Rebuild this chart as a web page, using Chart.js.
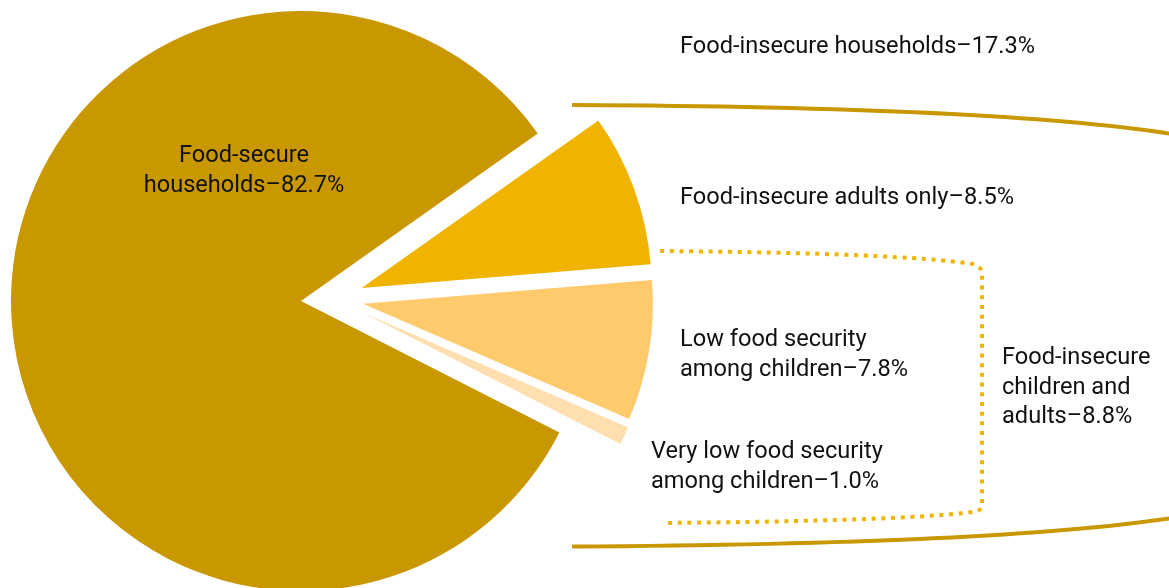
<!DOCTYPE html>
<html>
<head>
<meta charset="utf-8">
<script src="https://cdn.jsdelivr.net/npm/chart.js@4.4.0/dist/chart.umd.min.js"></script>
<style>
  html, body { margin: 0; padding: 0; background: #fff; }
  #wrap { position: relative; width: 1169px; height: 588px; overflow: hidden; }
</style>
</head>
<body>
<div id="wrap"><canvas id="chart1"></canvas></div>
<script>
// household shares (percent)
const categories = ['Food-secure households', 'Food-insecure adults only', 'Low food security among children', 'Very low food security among children'];
const shares = [82.7, 8.5, 7.8, 1.0];
const exploded = [false, true, true, true];
const colors = ['#C99700', '#F0B400', '#FFCA6B', '#FFDFB0'];

const gold = '#C99700';
const font = '23.6px Roboto';
const EXPLODE = 62;      // px the food-insecure slices are pulled out
const GROUP_ANGLE = -4.15; // screen angle (deg) the pulled-out group points at

let insecure = 0, childInsecure = 0;
shares.forEach((v, i) => { if (exploded[i]) insecure += v; });
childInsecure = shares[2] + shares[3];
const rotation = 90 + GROUP_ANGLE + insecure / 100 * 360 / 2;

const fmt = v => v.toFixed(1) + '%';

// annotation text, lines and where they go
const notes = [
  {lines: ['Food-insecure households\u2013' + fmt(insecure)], x: 680, y: 53, align: 'left'},
  {lines: ['Food-secure', 'households\u2013' + fmt(shares[0])], x: 244, y: 162, align: 'center'},
  {lines: ['Food-insecure adults only\u2013' + fmt(shares[1])], x: 680, y: 204, align: 'left'},
  {lines: ['Low food security', 'among children\u2013' + fmt(shares[2])], x: 680, y: 346, align: 'left'},
  {lines: ['Very low food security', 'among children\u2013' + fmt(shares[3])], x: 651, y: 458, align: 'left'},
  {lines: ['Food-insecure', 'children and', 'adults\u2013' + fmt(childInsecure)], x: 1002, y: 364, align: 'left'}
];

// pull the food-insecure slices out, part way between their own bisector and the group's
const explodePlugin = {
  id: 'explode',
  afterDatasetsUpdate(chart) {
    const arcs = chart.getDatasetMeta(0).data;
    const idx = exploded.map((e, i) => e ? i : -1).filter(i => i >= 0);
    const mid = (arcs[idx[0]].startAngle + arcs[idx[idx.length - 1]].endAngle) / 2;
    idx.forEach(i => {
      const a = arcs[i];
      const bis = (a.startAngle + a.endAngle) / 2;
      const dir = mid + 0.5 * (bis - mid);
      a.x += EXPLODE * Math.cos(dir);
      a.y += EXPLODE * Math.sin(dir);
    });
  }
};

const notesPlugin = {
  id: 'notes',
  afterDraw(chart) {
    const ctx = chart.ctx;
    ctx.save();
    // outer bracket round all food-insecure households
    ctx.strokeStyle = gold;
    ctx.lineWidth = 4;
    ctx.beginPath();
    ctx.moveTo(572, 105);
    ctx.quadraticCurveTo(1000, 107, 1172, 134);
    ctx.stroke();
    ctx.beginPath();
    ctx.moveTo(572, 546.5);
    ctx.quadraticCurveTo(1000, 544, 1172, 518);
    ctx.stroke();

    // dotted bracket for households with food-insecure children
    ctx.strokeStyle = '#F0B400';
    ctx.lineWidth = 4;
    ctx.setLineDash([4, 5.7]);
    ctx.beginPath();
    ctx.moveTo(660, 251);
    ctx.quadraticCurveTo(900, 253, 973, 264);
    ctx.quadraticCurveTo(982, 266, 982, 275);
    ctx.lineTo(982, 505);
    ctx.quadraticCurveTo(982, 511, 973, 512);
    ctx.quadraticCurveTo(900, 521, 662, 523);
    ctx.stroke();
    ctx.setLineDash([]);

    ctx.fillStyle = '#111';
    ctx.font = font;
    ctx.textBaseline = 'alphabetic';
    notes.forEach(n => {
      ctx.textAlign = n.align;
      n.lines.forEach((t, k) => ctx.fillText(t, n.x, n.y + k * 29.5));
    });
    ctx.restore();
  }
};

const chart = new Chart(document.getElementById('chart1'), {
  type: 'pie',
  data: {
    labels: categories,
    datasets: [{
      data: shares,
      backgroundColor: colors,
      borderWidth: 0,
      clip: false
    }]
  },
  options: {
    responsive: true,
    maintainAspectRatio: false,
    animation: false,
    events: [],
    rotation: rotation,
    radius: 290,
    layout: {padding: {left: 0, right: 567, top: 14, bottom: 0}},
    plugins: {
      legend: {display: false},
      tooltip: {enabled: false}
    }
  },
  plugins: [explodePlugin, notesPlugin]
});
</script>
</body>
</html>
